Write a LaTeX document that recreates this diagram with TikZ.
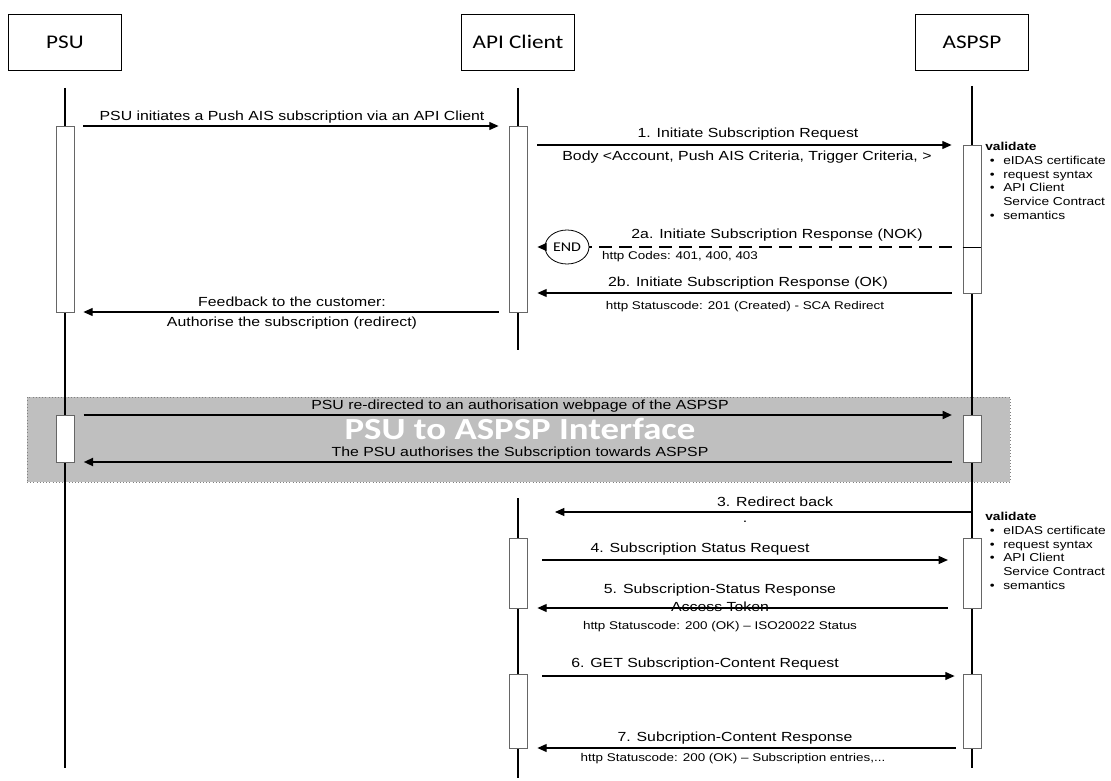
\documentclass[tikz,border=0pt]{standalone}
\usepackage{fontspec}
\setmainfont{Liberation Sans}[FakeStretch=1.2]
\newfontfamily\calfont{Carlito}[FakeStretch=1.2]
\usetikzlibrary{arrows.meta,shapes.geometric}
\definecolor{bandgray}{HTML}{BFBFBF}
\tikzset{
 actor/.style={draw=black, line width=0.6pt, minimum width=84.75pt, minimum height=42pt, inner sep=0pt, font=\calfont\fontsize{14.5}{17}\selectfont},
 lifeline/.style={line width=1.5pt},
 actbox/.style={draw=black!60, fill=white, line width=0.6pt, minimum width=13.5pt, inner sep=0pt},
 msg/.style={line width=0.9pt, -{Triangle[length=7pt,width=6pt]}},
 bandmsg/.style={line width=1.4pt, -{Triangle[length=7pt,width=6pt]}},
 lbl/.style={font=\fontsize{9.9}{11.5}\selectfont, inner sep=0pt},
 sml/.style={font=\fontsize{8.4}{10}\selectfont, inner sep=0pt},
 vtext/.style={font=\fontsize{8.6}{10.3}\selectfont, align=left, anchor=north west, inner sep=0pt},
}
\newcommand{\bul}[1]{\hspace*{3.5pt}\makebox[10pt][l]{\textbullet}#1}
\begin{document}
\begin{tikzpicture}[x=0.75pt,y=-0.75pt]
\useasboundingbox (0,0) rectangle (1111,781);
% band
\node[draw=black!50, dotted, fill=bandgray, minimum width=737.25pt, minimum height=63.75pt, inner sep=0pt] (band) at (518.5,439.5) {};
% actors
\node[actor] (psu) at (65,42) {PSU};
\node[actor] (api) at (518,42) {API Client};
\node[actor] (aspsp) at (972,42) {ASPSP};
% lifelines
\coordinate (psuTop) at (65,88);   \coordinate (psuBot) at (65,768);
\coordinate (apiTop) at (518,88);  \coordinate (apiMid1) at (518,350);
\coordinate (apiMid2) at (518,498); \coordinate (apiBot) at (518,778);
\coordinate (aspTop) at (972,86);  \coordinate (aspBot) at (972,768);
\draw[lifeline] (psuTop) -- (psuBot);
\draw[lifeline] (apiTop) -- (apiMid1);
\draw[lifeline] (apiMid2) -- (apiBot);
\draw[lifeline] (aspTop) -- (aspBot);
% activation boxes
\node[actbox, minimum height=139.5pt] (psuA) at (65,219) {};
\node[actbox, minimum height=139.5pt] (apiA) at (518,219) {};
\node[actbox, minimum height=111pt] (aspA) at (972,219) {};
\node[actbox, minimum height=35.25pt] (psuB) at (65,438.5) {};
\node[actbox, minimum height=35.25pt] (aspB) at (972,438.5) {};
\node[actbox, minimum height=52.5pt] (apiC) at (518,573) {};
\node[actbox, minimum height=52.5pt] (aspC) at (972,573) {};
\node[actbox, minimum height=55.5pt] (apiD) at (518,711) {};
\node[actbox, minimum height=55.5pt] (aspD) at (972,711) {};
% messages
\draw[msg, shorten <=6.75pt, shorten >=7.5pt] (psuA.east |- 0,126) -- (apiA.west |- 0,126);
\node[lbl] (l0) at (292,117) {PSU initiates a Push AIS subscription via an API Client};
\draw[msg, shorten <=7.5pt, shorten >=8.25pt] (apiA.east |- 0,145) -- (aspA.west |- 0,145);
\node[lbl] (l1a) at (748,134) {1. Initiate Subscription Request};
\node[lbl] (l1b) at (747,157) {Body <Account, Push AIS Criteria, Trigger Criteria, >};
% 2a
\node[draw, ellipse, line width=0.6pt, minimum width=33pt, minimum height=25.5pt, inner sep=0pt, font=\calfont\fontsize{10}{12}\selectfont] (end) at (567,247) {END};
\draw[line width=0.9pt, dash pattern=on 10pt off 5pt, shorten <=8pt] (aspA.west |- 0,247) -- (end.east);
\draw[line width=0.6pt] (aspA.west |- 0,247) -- (aspA.east |- 0,247);
\draw[msg, shorten >=7.5pt] (end.west) -- (apiA.east |- end.west);
\node[lbl] (l2a) at (777,235) {2a. Initiate Subscription Response (NOK)};
\node[sml] (l2ab) at (680,257) {http Codes: 401, 400, 403};
% 2b
\draw[msg, shorten <=8pt, shorten >=7.5pt] (aspA.west |- 0,293) -- (apiA.east |- 0,293);
\node[lbl] (l2b) at (748,283) {2b. Initiate Subscription Response (OK)};
\node[sml] (l2bb) at (745,307) {http Statuscode: 201 (Created) - SCA Redirect};
% feedback
\draw[msg, shorten <=7.5pt, shorten >=6.75pt] (apiA.west |- 0,312) -- (psuA.east |- 0,312);
\node[lbl] (lf1) at (292,302) {Feedback to the customer:};
\node[lbl] (lf2) at (292,323) {Authorise the subscription (redirect)};
% band messages
\draw[bandmsg, shorten <=7pt, shorten >=8pt] (psuB.east |- 0,415) -- (aspB.west |- 0,415);
\node[lbl] (lb1) at (520,406) {PSU re-directed to an authorisation webpage of the ASPSP};
\node[text=white, inner sep=0pt, text height=15pt, text depth=0pt, font=\calfont\bfseries\fontsize{23}{26}\selectfont] (bandtitle) at (520,429) {PSU to ASPSP Interface};
\draw[bandmsg, shorten <=8pt, shorten >=7pt] (aspB.west |- 0,462) -- (psuB.east |- 0,462);
\node[lbl] (lb2) at (520,453) {The PSU authorises the Subscription towards ASPSP};
% 3
\coordinate (r3a) at (972,512); \coordinate (r3b) at (555,512);
\draw[msg] (r3a) -- (r3b);
\node[lbl] (l3) at (775,502) {3. Redirect back};
\node[lbl] (l3dot) at (745,522) {.};
% 4
\draw[msg, shorten <=11pt, shorten >=11pt] (apiC.east |- 0,560) -- (aspC.west |- 0,560);
\node[lbl] (l4) at (700,549) {4. Subscription Status Request};
% 5
\draw[msg, shorten <=11pt, shorten >=7.5pt] (aspC.west |- 0,608) -- (apiC.east |- 0,608);
\node[lbl] (l5a) at (720,590) {5. Subscription-Status Response};
\node[lbl] (l5b) at (720,607) {Access Token};
\node[sml] (l5c) at (720,627) {http Statuscode: 200 (OK) -- ISO20022 Status};
% 6
\draw[msg, shorten <=11pt, shorten >=6pt] (apiD.east |- 0,676) -- (aspD.west |- 0,676);
\node[lbl] (l6) at (705,664) {6. GET Subscription-Content Request};
% 7
\draw[msg, shorten <=5pt, shorten >=7.5pt] (aspD.west |- 0,748) -- (apiD.east |- 0,748);
\node[lbl] (l7a) at (735,738) {7. Subcription-Content Response};
\node[sml] (l7b) at (733,759) {http Statuscode: 200 (OK) -- Subscription entries,...};
% validate texts
\node[vtext] (v1) at (985,142) {\textbf{validate}\\\bul{eIDAS certificate}\\\bul{request syntax}\\\bul{API Client}\\\hspace*{13.5pt}Service Contract\\\bul{semantics}};
\node[vtext] (v2) at (985,512) {\textbf{validate}\\\bul{eIDAS certificate}\\\bul{request syntax}\\\bul{API Client}\\\hspace*{13.5pt}Service Contract\\\bul{semantics}};
\end{tikzpicture}
\end{document}
